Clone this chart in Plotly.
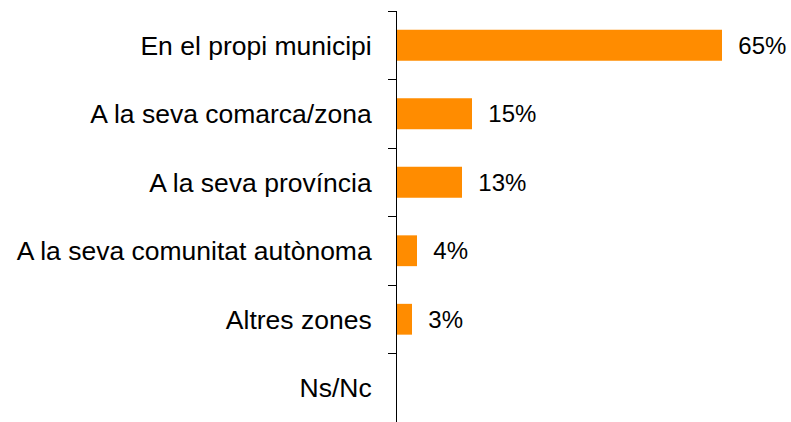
import plotly.graph_objects as go

categories = ["En el propi municipi", "A la seva comarca/zona", "A la seva província",
              "A la seva comunitat autònoma", "Altres zones", "Ns/Nc"]
values = [65, 15, 13, 4, 3, 0]
labels = ["65%", "15%", "13%", "4%", "3%", ""]

FONT = "Liberation Sans, Arial, sans-serif"
pad = "\u00a0" * 2
fig = go.Figure(go.Bar(
    y=categories, x=values, orientation="h",
    marker=dict(color="#FF8C00", line=dict(width=0)),
    width=0.45,
    text=[pad + t if t else "" for t in labels],
    textposition="outside", cliponaxis=False,
    textfont=dict(family=FONT, size=24, color="black"),
    hoverinfo="skip",
))
fig.update_layout(
    width=791, height=422,
    margin=dict(l=397, r=0, t=11, b=0),
    paper_bgcolor="white", plot_bgcolor="white",
    showlegend=False,
    font=dict(family=FONT, size=26.5, color="black"),
)
fig.update_xaxes(range=[0, 78.8], visible=False, showgrid=False, zeroline=False)
fig.update_yaxes(
    autorange="reversed", type="category", tickson="boundaries",
    ticks="outside", ticklen=8, tickcolor="black", tickwidth=1,
    showline=True, linecolor="black", linewidth=1,
    showgrid=False, ticklabelstandoff=19,
    tickfont=dict(family=FONT, size=26.5, color="black"),
)
fig.write_html("out.html", config={"displayModeBar": False},
               post_script="document.body.style.margin='0';")
